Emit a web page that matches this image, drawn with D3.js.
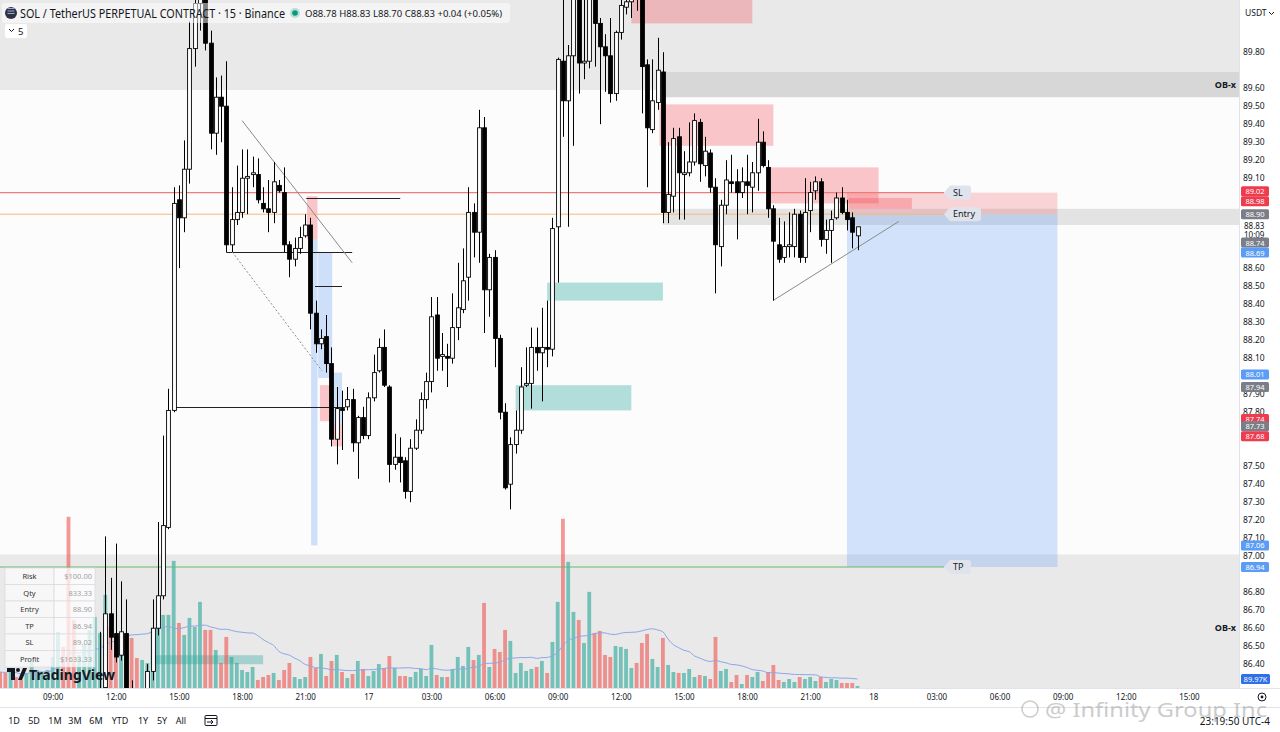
<!DOCTYPE html>
<html>
<head>
<meta charset="utf-8">
<title>SOL / TetherUS 15m</title>
<script src="https://cdn.jsdelivr.net/npm/d3@7/dist/d3.min.js"></script>
<style>
  body { margin: 0; background: #ffffff; }
  svg { display: block; font-family: "Noto Sans", Roboto, sans-serif; }
</style>
</head>
<body>
<svg id="chart" width="1280" height="732"></svg>
<script>
// helper for dates (day of month, hour, minute)
function T(day, hh, mm) { return new Date(2025, 0, day, hh, mm); }

// first bar = 16th 06:30, one bar every 15 minutes
const firstBar = T(16, 6, 30);

const opens = [
  86.20, 86.16, 86.12, 86.18, 86.15, 86.11, 86.15, 86.21, 86.23, 86.21,
  86.20, 86.21, 86.24, 86.15, 86.03, 85.99, 86.05, 86.10, 86.15, 86.20,
  86.27, 86.68, 86.57, 86.45, 86.57, 86.26, 86.16, 86.10, 86.21, 86.36,
  86.60, 86.78, 87.16, 87.81, 88.98, 88.88, 89.15, 89.82, 90.07, 90.17,
  89.85, 89.35, 89.55, 89.50, 88.73, 88.87, 88.91, 89.10, 89.12, 89.12,
  88.96, 88.93, 88.91, 89.06, 89.02, 88.73, 88.65, 88.71, 88.78, 88.84,
  88.35, 88.18, 88.22, 88.07, 87.65, 87.82, 87.83, 87.87, 87.63, 87.77,
  87.67, 87.88, 88.03, 88.16, 87.94, 87.51, 87.55, 87.53, 87.36, 87.60,
  87.70, 87.87, 87.97, 88.34, 88.11, 88.11, 88.10, 88.27, 88.37, 88.55,
  88.91, 88.80, 89.38, 88.48, 88.66, 88.21, 87.80, 87.40, 87.62, 87.70,
  87.95, 87.96, 88.16, 88.13, 88.16, 88.15, 88.83, 89.75, 89.53, 89.78,
  90.15, 89.74, 89.75, 90.17, 89.96, 89.83, 89.78, 89.57, 89.91, 90.05,
  90.08, 90.17, 90.12, 89.73, 89.37, 89.52, 89.69, 88.91, 89.00, 89.33,
  89.12, 89.13, 89.19, 89.41, 89.17, 89.24, 89.05, 88.72, 88.95, 89.08,
  89.08, 89.02, 89.08, 89.05, 89.13, 89.30, 89.16, 88.93, 88.73, 88.66,
  88.72, 88.72, 88.90, 88.66, 88.92, 89.03, 89.08, 88.76, 88.81, 88.88,
  88.99, 88.91, 88.88, 88.78
];
const highs = [
  86.24, 86.19, 86.20, 86.21, 86.17, 86.17, 86.23, 86.25, 86.25, 86.25,
  86.25, 86.25, 86.25, 86.18, 86.08, 86.07, 86.12, 86.18, 86.22, 86.58,
  87.11, 86.88, 87.07, 86.86, 86.76, 86.31, 86.20, 86.24, 86.40, 86.76,
  87.19, 87.67, 87.93, 89.05, 89.06, 89.31, 89.97, 90.12, 90.26, 90.23,
  89.92, 89.66, 89.67, 89.75, 89.05, 89.17, 89.26, 89.26, 89.22, 89.21,
  89.05, 89.09, 89.19, 89.09, 89.16, 88.75, 88.77, 88.83, 88.90, 88.88,
  88.42, 88.26, 88.34, 88.16, 87.94, 87.92, 87.94, 87.93, 87.78, 87.83,
  87.91, 88.12, 88.21, 88.26, 87.95, 87.68, 87.66, 87.55, 87.65, 87.76,
  87.91, 88.02, 88.44, 88.44, 88.24, 88.18, 88.46, 88.63, 88.71, 89.05,
  88.96, 89.48, 89.44, 88.68, 88.70, 88.23, 87.85, 87.66, 87.81, 88.05,
  88.16, 88.27, 88.27, 88.38, 88.42, 88.88, 89.77, 90.20, 89.84, 90.26,
  90.23, 90.20, 90.20, 90.23, 89.99, 89.90, 89.99, 89.92, 90.09, 90.12,
  90.26, 90.26, 90.15, 89.76, 89.76, 89.88, 89.80, 89.30, 89.38, 89.38,
  89.25, 89.41, 89.46, 89.43, 89.33, 89.26, 89.10, 88.98, 89.20, 89.23,
  89.15, 89.16, 89.23, 89.19, 89.43, 89.36, 89.20, 88.95, 88.88, 88.86,
  88.91, 88.93, 88.92, 89.10, 89.08, 89.11, 89.10, 88.87, 88.92, 89.02,
  89.05, 88.98, 88.91, 88.83
];
const lows = [
  86.13, 86.10, 86.10, 86.13, 86.09, 86.08, 86.13, 86.18, 86.20, 86.19,
  86.17, 86.19, 86.12, 85.98, 85.95, 85.96, 86.02, 86.07, 86.12, 86.17,
  86.23, 86.48, 86.41, 86.42, 86.20, 86.12, 86.05, 86.06, 86.15, 86.31,
  86.56, 86.76, 87.15, 87.80, 88.60, 88.80, 89.07, 89.72, 89.92, 89.81,
  89.26, 89.23, 89.30, 88.69, 88.69, 88.84, 88.88, 88.90, 89.05, 88.96,
  88.91, 88.80, 88.85, 89.02, 88.69, 88.55, 88.61, 88.68, 88.77, 88.26,
  88.13, 88.15, 88.02, 87.61, 87.51, 87.59, 87.81, 87.58, 87.43, 87.65,
  87.65, 87.86, 88.02, 87.94, 87.41, 87.48, 87.41, 87.32, 87.30, 87.59,
  87.68, 87.82, 87.91, 88.03, 88.03, 87.94, 88.07, 88.20, 88.35, 88.42,
  88.66, 88.63, 88.24, 88.33, 88.05, 87.76, 87.37, 87.26, 87.57, 87.68,
  87.94, 87.82, 88.03, 87.86, 88.05, 88.11, 88.52, 89.33, 88.83, 89.28,
  89.57, 89.65, 89.71, 89.72, 89.40, 89.58, 89.52, 89.53, 89.87, 90.01,
  89.99, 90.03, 89.46, 89.05, 89.35, 89.48, 88.85, 88.85, 88.91, 88.87,
  88.87, 89.11, 89.17, 89.08, 89.11, 89.02, 88.46, 88.61, 88.90, 89.02,
  88.76, 88.99, 88.90, 88.91, 89.03, 89.16, 88.88, 88.42, 88.63, 88.63,
  88.66, 88.66, 88.63, 88.63, 88.80, 88.98, 88.72, 88.68, 88.63, 88.87,
  88.90, 88.81, 88.71, 88.70
];
const closes = [
  86.16, 86.12, 86.18, 86.15, 86.11, 86.15, 86.21, 86.23, 86.24, 86.24,
  86.23, 86.24, 86.15, 86.03, 85.99, 86.05, 86.10, 86.15, 86.20, 86.26,
  86.68, 86.55, 86.44, 86.58, 86.26, 86.16, 86.10, 86.20, 86.36, 86.60,
  86.78, 87.17, 87.81, 88.96, 88.88, 89.15, 89.82, 90.07, 90.17, 89.85,
  89.35, 89.55, 89.50, 88.73, 88.87, 88.91, 89.10, 89.11, 89.13, 88.98,
  88.93, 88.91, 89.08, 89.03, 88.73, 88.65, 88.71, 88.77, 88.84, 88.35,
  88.18, 88.21, 88.07, 87.65, 87.82, 87.81, 87.87, 87.63, 87.77, 87.67,
  87.88, 88.02, 88.16, 87.95, 87.51, 87.55, 87.52, 87.36, 87.60, 87.70,
  87.87, 87.97, 88.33, 88.10, 88.12, 88.10, 88.27, 88.38, 88.53, 88.91,
  88.80, 89.38, 88.48, 88.66, 88.21, 87.80, 87.38, 87.62, 87.70, 87.94,
  87.96, 88.16, 88.13, 88.16, 88.15, 88.82, 89.76, 89.53, 89.78, 90.15,
  89.74, 89.75, 90.12, 89.96, 89.83, 89.78, 89.57, 89.91, 90.06, 90.08,
  90.17, 90.12, 89.72, 89.38, 89.53, 89.70, 88.91, 89.01, 89.32, 89.13,
  89.13, 89.19, 89.42, 89.18, 89.25, 89.05, 88.73, 88.95, 89.09, 89.07,
  89.02, 89.08, 89.06, 89.13, 89.30, 89.17, 88.93, 88.75, 88.65, 88.72,
  88.73, 88.90, 88.66, 88.91, 89.02, 89.08, 88.76, 88.81, 88.87, 88.99,
  88.91, 88.87, 88.80, 88.83
];
// volume, thousands
const volumes = [
  144, 135, 180, 99, 72, 135, 234, 162, 135, 162,
  279, 504, 369, 1539, 612, 297, 387, 522, 639, 495,
  837, 549, 459, 432, 495, 450, 270, 252, 225, 540,
  792, 657, 657, 1143, 585, 477, 630, 549, 774, 522,
  522, 342, 225, 459, 279, 225, 162, 144, 189, 72,
  99, 117, 135, 72, 162, 225, 99, 81, 99, 279,
  180, 306, 108, 243, 297, 144, 90, 126, 243, 171,
  108, 153, 216, 180, 288, 180, 108, 108, 99, 144,
  171, 108, 387, 117, 99, 99, 171, 279, 198, 369,
  252, 297, 765, 189, 351, 324, 522, 423, 135, 225,
  153, 171, 189, 243, 135, 414, 774, 1521, 1134, 684,
  612, 405, 864, 495, 513, 297, 279, 378, 369, 351,
  180, 225, 405, 486, 261, 189, 450, 207, 144, 135,
  135, 171, 99, 117, 108, 81, 459, 153, 171, 54,
  117, 36, 117, 99, 144, 63, 144, 207, 72, 54,
  81, 54, 99, 81, 99, 63, 99, 54, 81, 72,
  45, 45, 45, 18
];

// price axis
const priceTicks = [89.80, 89.60, 89.50, 89.40, 89.30, 89.20, 89.10, 88.60, 88.50, 88.40,
  88.30, 88.20, 88.10, 87.90, 87.80, 87.50, 87.40, 87.30, 87.20, 87.10, 87.00,
  86.80, 86.70, 86.60, 86.50, 86.40];
const tagValues = [89.02, 88.98, 88.90, 88.74, 88.69, 88.01, 87.94, 87.74, 87.73, 87.68, 87.06, 86.94];
const tagKinds  = ["red", "red", "gray", "gray", "blue", "blue", "gray", "red", "gray", "red", "blue", "blue"];

// drawn zones [from, to, top, bottom]
const obBands = [[90.40, 89.59], [87.01, 85.80]];
const obDark = [[T(17, 14, 0), 89.69, 89.55]];
const entryBand = [[T(17, 14, 0), 88.93, 88.84]];
const supplyZones = [
  [T(17, 12, 30), T(17, 18, 15), 90.40, 89.96],
  [T(17, 13, 50), T(17, 19, 15), 89.51, 89.28],
  [T(17, 19, 0), T(18, 0, 15), 89.16, 88.96],
  [T(17, 22, 50), T(18, 1, 50), 88.99, 88.93],
  [T(16, 21, 5), T(16, 21, 35), 89.00, 88.76],
  [T(16, 21, 42), T(16, 22, 17), 87.95, 87.75],
  [T(16, 22, 17), T(16, 22, 45), 87.73, 87.61]
];
const blueZones = [
  [T(16, 21, 17), T(16, 21, 35), 88.76, 87.06],
  [T(16, 21, 37), T(16, 22, 17), 88.69, 87.99],
  [T(16, 22, 17), T(16, 22, 45), 88.02, 87.73]
];
const demandZones = [
  [T(17, 8, 30), T(17, 14, 0), 88.52, 88.42],
  [T(17, 7, 0), T(17, 12, 30), 87.95, 87.81],
  [T(16, 13, 40), T(16, 19, 0), 86.45, 86.40]
];
// black horizontal rays [from, to, price]
const levelLines = [
  [T(16, 21, 3), T(17, 1, 31), 88.99],
  [T(16, 17, 15), T(16, 23, 14), 88.69],
  [T(16, 21, 28), T(16, 22, 45), 88.50],
  [T(16, 14, 49), T(16, 22, 54), 87.83]
];
// trend lines [t1, p1, t2, p2]
const trendLines = [
  [T(16, 18, 0), 89.42, T(16, 23, 14), 88.63],
  [T(16, 17, 32), 88.69, T(16, 21, 48), 88.03],
  [T(17, 19, 14), 88.42, T(18, 1, 13), 88.86]
];
// short position
const posFrom = T(17, 22, 45), posTo = T(18, 8, 45);
const entry = 88.90, stopLoss = 89.02, takeProfit = 86.94;
const tableLabels = ["Risk", "Qty", "Entry", "TP", "SL", "Profit"];
const tableValues = ["$100.00", "833.33", "88.90", "86.94", "89.02", "$1633.33"];
const rangeButtons = ["1D", "5D", "1M", "3M", "6M", "YTD", "1Y", "5Y", "All"];

// ---------------------------------------------------------------
const paneW = 1239, paneH = 688;
const svg = d3.select("#chart");

const x = d3.scaleTime().domain([T(16, 9, 0), T(18, 0, 0)]).range([52.7, 873.3]);
const y = d3.scaleLinear().domain([90.09, 86.27]).range([0, 687.6]);
const yVol = d3.scaleLinear().domain([0, 1600]).range([paneH, 510]);

const bars = opens.map((o, i) => ({
  t: d3.timeMinute.offset(firstBar, 15 * i),
  o: o, h: highs[i], l: lows[i], c: closes[i], v: volumes[i]
}));
// 20 bar volume average
bars.forEach((b, i) => {
  const part = volumes.slice(Math.max(0, i - 19), i + 1);
  b.ma = d3.mean(part);
});

svg.append("rect").attr("width", 1280).attr("height", 732).attr("fill", "#ffffff");
svg.append("defs").append("clipPath").attr("id", "pane")
  .append("rect").attr("width", paneW).attr("height", paneH);

const pane = svg.append("g").attr("clip-path", "url(#pane)");
pane.append("rect").attr("width", paneW).attr("height", paneH).attr("fill", "#fcfcfc");

// grey order block bands across the whole pane
pane.selectAll(".ob").data(obBands).enter().append("rect")
  .attr("x", 0).attr("width", paneW)
  .attr("y", d => y(d[0])).attr("height", d => y(d[1]) - y(d[0]))
  .attr("fill", "#e9e9e9");
pane.selectAll(".obd").data(obDark).enter().append("rect")
  .attr("x", d => x(d[0])).attr("width", d => paneW - x(d[0]))
  .attr("y", d => y(d[1])).attr("height", d => y(d[2]) - y(d[1]))
  .attr("fill", "#d7d7d7");
pane.selectAll(".eb").data(entryBand).enter().append("rect")
  .attr("x", d => x(d[0])).attr("width", d => paneW - x(d[0]))
  .attr("y", d => y(d[1])).attr("height", d => y(d[2]) - y(d[1]))
  .attr("fill", "#e3e3e3");

function drawBoxes(data, fill) {
  pane.append("g").selectAll("rect").data(data).enter().append("rect")
    .attr("x", d => x(d[0])).attr("width", d => x(d[1]) - x(d[0]))
    .attr("y", d => y(d[2])).attr("height", d => y(d[3]) - y(d[2]))
    .attr("fill", fill);
}
drawBoxes(demandZones, "rgba(38,166,154,0.35)");
drawBoxes(blueZones, "rgba(66,135,245,0.25)");

// position tool
const px1 = x(posFrom), px2 = x(posTo);
pane.append("rect").attr("x", px1).attr("width", px2 - px1)
  .attr("y", y(stopLoss)).attr("height", y(entry) - y(stopLoss))
  .attr("fill", "rgba(242,54,69,0.2)");
pane.append("rect").attr("x", px1).attr("width", px2 - px1)
  .attr("y", y(entry)).attr("height", y(takeProfit) - y(entry))
  .attr("fill", "rgba(66,135,245,0.22)");

drawBoxes(supplyZones, "rgba(242,70,80,0.3)");

// volume
const bw = 3.8;
pane.append("g").selectAll("rect").data(bars).enter().append("rect")
  .attr("x", d => x(d.t) - bw / 2).attr("width", bw)
  .attr("y", d => yVol(d.v)).attr("height", d => paneH - yVol(d.v))
  .attr("fill", d => d.c >= d.o ? "rgba(38,166,154,0.6)" : "rgba(239,83,80,0.6)");
pane.append("path").datum(bars)
  .attr("d", d3.line().x(d => x(d.t)).y(d => yVol(d.ma)).curve(d3.curveMonotoneX))
  .attr("fill", "none").attr("stroke", "#8ea6e8").attr("stroke-width", 1);

// price lines running into the position labels
const labelX = 944;
pane.append("line").attr("x1", 0).attr("x2", labelX).attr("y1", y(stopLoss)).attr("y2", y(stopLoss))
  .attr("stroke", "#ef7b7b").attr("stroke-width", 1.2);
pane.append("line").attr("x1", 0).attr("x2", labelX).attr("y1", y(entry)).attr("y2", y(entry))
  .attr("stroke", "#f5b87a").attr("stroke-width", 1);
pane.append("line").attr("x1", 0).attr("x2", labelX).attr("y1", y(takeProfit)).attr("y2", y(takeProfit))
  .attr("stroke", "#66bb6a").attr("stroke-width", 1);

// drawings
pane.append("g").selectAll("line").data(levelLines).enter().append("line")
  .attr("x1", d => x(d[0])).attr("x2", d => x(d[1]))
  .attr("y1", d => Math.round(y(d[2])) + 0.5).attr("y2", d => Math.round(y(d[2])) + 0.5)
  .attr("stroke", "#222").attr("stroke-width", 1);
pane.append("g").selectAll("line").data(trendLines).enter().append("line")
  .attr("x1", d => x(d[0])).attr("y1", d => y(d[1]))
  .attr("x2", d => x(d[2])).attr("y2", d => y(d[3]))
  .attr("stroke", "#8a8a8a").attr("stroke-width", 1)
  .attr("stroke-dasharray", (d, i) => i === 1 ? "2,2" : null);

// candles
const cw = 3.8;
const candle = pane.append("g").selectAll("g").data(bars).enter().append("g");
candle.append("line")
  .attr("x1", d => Math.round(x(d.t)) + 0.5).attr("x2", d => Math.round(x(d.t)) + 0.5)
  .attr("y1", d => y(d.h)).attr("y2", d => y(d.l))
  .attr("stroke", "#000").attr("stroke-width", 1);
candle.append("rect")
  .attr("x", d => Math.round(x(d.t)) + 0.5 - cw / 2).attr("width", cw)
  .attr("y", d => y(Math.max(d.o, d.c)))
  .attr("height", d => Math.max(0.8, Math.abs(y(d.o) - y(d.c))))
  .attr("fill", d => d.c >= d.o ? "#ffffff" : "#000000")
  .attr("stroke", "#000").attr("stroke-width", 0.9);

// position labels
function pill(text, price, w) {
  const cy = y(price), g = pane.append("g");
  g.append("path")
    .attr("d", `M${labelX},${cy} L${labelX + 6},${cy - 7} L${labelX + w},${cy - 7} Q${labelX + w + 3},${cy - 7} ${labelX + w + 3},${cy - 4} L${labelX + w + 3},${cy + 4} Q${labelX + w + 3},${cy + 7} ${labelX + w},${cy + 7} L${labelX + 6},${cy + 7} Z`)
    .attr("fill", "#e0e3eb");
  g.append("text").attr("x", labelX + 9).attr("y", cy + 3.2)
    .attr("font-size", 9).attr("fill", "#131722").text(text);
}
pill("SL", stopLoss, 24);
pill("Entry", entry, 34);
pill("TP", takeProfit, 24);

// OB-x labels
pane.selectAll(".obl").data([obDark[0][1] - 0.07, 86.60]).enter().append("text")
  .attr("x", 1236).attr("y", d => y(d) + 3).attr("text-anchor", "end")
  .attr("font-size", 9).attr("font-weight", "bold").attr("fill", "#131722").text("OB-x");

// risk table
const tb = pane.append("g").attr("transform", "translate(5,568)");
tableLabels.forEach((lab, i) => {
  tb.append("rect").attr("x", 0).attr("y", i * 16.5).attr("width", 49).attr("height", 16.5)
    .attr("fill", "rgba(250,250,250,0.8)").attr("stroke", "#d6d8de").attr("stroke-width", 0.6);
  tb.append("rect").attr("x", 49).attr("y", i * 16.5).attr("width", 41).attr("height", 16.5)
    .attr("fill", "rgba(255,255,255,0.75)").attr("stroke", "#d6d8de").attr("stroke-width", 0.6);
  tb.append("text").attr("x", 24.5).attr("y", i * 16.5 + 11).attr("text-anchor", "middle")
    .attr("font-size", 7.5).attr("fill", "#333").text(lab);
  tb.append("text").attr("x", 87).attr("y", i * 16.5 + 11).attr("text-anchor", "end")
    .attr("font-size", 7.5).attr("fill", "#a0a0a0").text(tableValues[i]);
});

// TradingView logo
const logo = pane.append("g").attr("transform", "translate(7,668)");
logo.append("path").attr("d", "M0,0 H8 V12 H4 V4 H0 Z").attr("fill", "#131722");
logo.append("circle").attr("cx", 11).attr("cy", 2).attr("r", 2).attr("fill", "#131722");
logo.append("path").attr("d", "M11,12 L16,0 H20 L15,12 Z").attr("fill", "#131722");
logo.append("text").attr("x", 22).attr("y", 11.5).attr("font-size", 14).attr("font-weight", "bold")
  .attr("fill", "#131722").text("TradingView");

// header
svg.append("rect").attr("x", 2).attr("y", 3).attr("width", 508).attr("height", 20).attr("rx", 3)
  .attr("fill", "rgba(255,255,255,0.5)");
svg.append("circle").attr("cx", 11).attr("cy", 13).attr("r", 6).attr("fill", "#2e3240");
[10.5, 13, 15.5].forEach(yy => svg.append("line").attr("x1", 7.5).attr("x2", 14.5)
  .attr("y1", yy - 2).attr("y2", yy - 2).attr("stroke", "#9ad").attr("stroke-width", 1));
svg.append("text").attr("x", 20).attr("y", 17.5).attr("font-size", 12).attr("fill", "#131722")
  .attr("textLength", 265).attr("lengthAdjust", "spacingAndGlyphs")
  .text("SOL / TetherUS PERPETUAL CONTRACT · 15 · Binance");
svg.append("circle").attr("cx", 295).attr("cy", 13).attr("r", 5).attr("fill", "rgba(8,153,129,0.25)");
svg.append("circle").attr("cx", 295).attr("cy", 13).attr("r", 2.8).attr("fill", "#089981");
svg.append("text").attr("x", 305).attr("y", 17).attr("font-size", 9.5).attr("fill", "#131722")
  .text("O88.78 H88.83 L88.70 C88.83 +0.04 (+0.05%)");
svg.append("rect").attr("x", 5).attr("y", 24).attr("width", 22).attr("height", 14).attr("rx", 2)
  .attr("fill", "#ffffff");
svg.append("path").attr("d", "M9,29 L11.5,31.5 L14,29").attr("fill", "none").attr("stroke", "#131722");
svg.append("text").attr("x", 18).attr("y", 35).attr("font-size", 9.5).attr("fill", "#131722").text("5");

// price axis
svg.append("rect").attr("x", paneW).attr("y", 0).attr("width", 1280 - paneW).attr("height", paneH)
  .attr("fill", "#ffffff");
svg.append("line").attr("x1", paneW + 0.5).attr("x2", paneW + 0.5).attr("y1", 0).attr("y2", paneH)
  .attr("stroke", "#e0e3eb");
const yAxis = svg.append("g").attr("transform", `translate(${paneW + 1},0)`)
  .call(d3.axisRight(y).tickValues(priceTicks).tickSize(0).tickPadding(3).tickFormat(d3.format(".2f")));
yAxis.select(".domain").remove();
yAxis.selectAll("text").attr("font-size", 8.5).attr("fill", "#131722").attr("font-family", "Noto Sans, sans-serif");

svg.append("rect").attr("x", 1240).attr("y", 4).attr("width", 36).attr("height", 18).attr("fill", "#ffffff");
svg.append("text").attr("x", 1245).attr("y", 16).attr("font-size", 8.5).attr("fill", "#131722").text("USDT");
svg.append("path").attr("d", "M1269,12 L1271.5,14.5 L1274,12").attr("fill", "none").attr("stroke", "#131722");

// current price + countdown
const lastBar = bars[bars.length - 1];
svg.append("text").attr("x", 1244).attr("y", y(lastBar.c) + 2.5).attr("font-size", 8).attr("fill", "#131722")
  .text(d3.format(".2f")(lastBar.c));
svg.append("text").attr("x", 1244).attr("y", y(lastBar.c) + 11).attr("font-size", 8).attr("fill", "#131722")
  .text("10:09");

// coloured price tags, pushed apart where they collide
const tagColor = { red: "#ef3b4e", gray: "#7b7e87", blue: "#5b9cf6" };
const tags = tagValues.map((v, i) => ({ v: v, kind: tagKinds[i], cy: y(v) }))
  .sort((a, b) => a.cy - b.cy);
for (let i = 1; i < tags.length; i++) {
  if (tags[i].cy - tags[i - 1].cy < 10) {
    const mid = (tags[i].cy + tags[i - 1].cy) / 2;
    tags[i - 1].cy = Math.min(tags[i - 1].cy, mid - 5);
    tags[i].cy = Math.max(tags[i].cy, tags[i - 1].cy + 10);
  }
}
tags.forEach(t => {
  svg.append("rect").attr("x", 1241).attr("y", t.cy - 5).attr("width", 28).attr("height", 10).attr("rx", 1.5)
    .attr("fill", tagColor[t.kind]);
  svg.append("text").attr("x", 1255).attr("y", t.cy + 3).attr("text-anchor", "middle")
    .attr("font-size", 7.5).attr("fill", "#ffffff").text(d3.format(".2f")(t.v));
});
// volume average tag
const maTagY = yVol(lastBar.ma);
svg.append("rect").attr("x", 1241).attr("y", maTagY - 5).attr("width", 29).attr("height", 10).attr("rx", 1.5)
  .attr("fill", "#2f6fe8");
svg.append("text").attr("x", 1255.5).attr("y", maTagY + 3).attr("text-anchor", "middle")
  .attr("font-size", 7.5).attr("fill", "#ffffff").text("89.97K");

// time axis
svg.append("rect").attr("x", 0).attr("y", paneH).attr("width", 1280).attr("height", 732 - paneH).attr("fill", "#ffffff");
svg.append("line").attr("x1", 0).attr("x2", 1280).attr("y1", paneH + 0.5).attr("y2", paneH + 0.5).attr("stroke", "#e0e3eb");
svg.append("line").attr("x1", 0).attr("x2", 1280).attr("y1", 707.5).attr("y2", 707.5).attr("stroke", "#e0e3eb");
const timeTicks = d3.timeHour.every(3).range(T(16, 9, 0), T(18, 15, 1));
const xAxis = svg.append("g").attr("transform", `translate(0,${paneH})`)
  .call(d3.axisBottom(x).tickValues(timeTicks).tickSize(0).tickPadding(6)
    .tickFormat(d => d.getHours() === 0 ? d3.timeFormat("%-d")(d) : d3.timeFormat("%H:%M")(d)));
xAxis.select(".domain").remove();
xAxis.selectAll("text").attr("font-size", 8).attr("fill", "#131722").attr("font-family", "Noto Sans, sans-serif");

// settings icon
svg.append("circle").attr("cx", 1262).attr("cy", 697).attr("r", 4).attr("fill", "none").attr("stroke", "#131722");
svg.append("circle").attr("cx", 1262).attr("cy", 697).attr("r", 1.4).attr("fill", "#131722");

// range toolbar
const btnX = [14, 34, 55, 75, 96, 120, 143, 162, 181];
rangeButtons.forEach((b, i) => {
  svg.append("text").attr("x", btnX[i]).attr("y", 724).attr("text-anchor", "middle")
    .attr("font-size", 9).attr("fill", "#131722").text(b);
});
const cal = svg.append("g").attr("transform", "translate(205,714)");
cal.append("rect").attr("x", 0).attr("y", 1.5).attr("width", 12).attr("height", 10).attr("rx", 1)
  .attr("fill", "none").attr("stroke", "#131722");
cal.append("line").attr("x1", 0).attr("x2", 12).attr("y1", 4.5).attr("y2", 4.5).attr("stroke", "#131722");
cal.append("path").attr("d", "M2,8 H8 M6,6 L8,8 L6,10").attr("fill", "none").attr("stroke", "#131722");

svg.append("text").attr("x", 1270).attr("y", 725).attr("text-anchor", "end")
  .attr("font-size", 10).attr("fill", "#131722").text("23:19:50 UTC-4");

// watermark
const wm = svg.append("g").attr("opacity", 0.5);
wm.append("circle").attr("cx", 1030).attr("cy", 709).attr("r", 8).attr("fill", "none")
  .attr("stroke", "#9a9a9a").attr("stroke-width", 1.5);
wm.append("text").attr("x", 1045).attr("y", 717).attr("font-size", 20).attr("fill", "#9a9a9a")
  .attr("textLength", 222).attr("lengthAdjust", "spacingAndGlyphs")
  .text("@ Infinity Group Inc");
</script>
</body>
</html>
